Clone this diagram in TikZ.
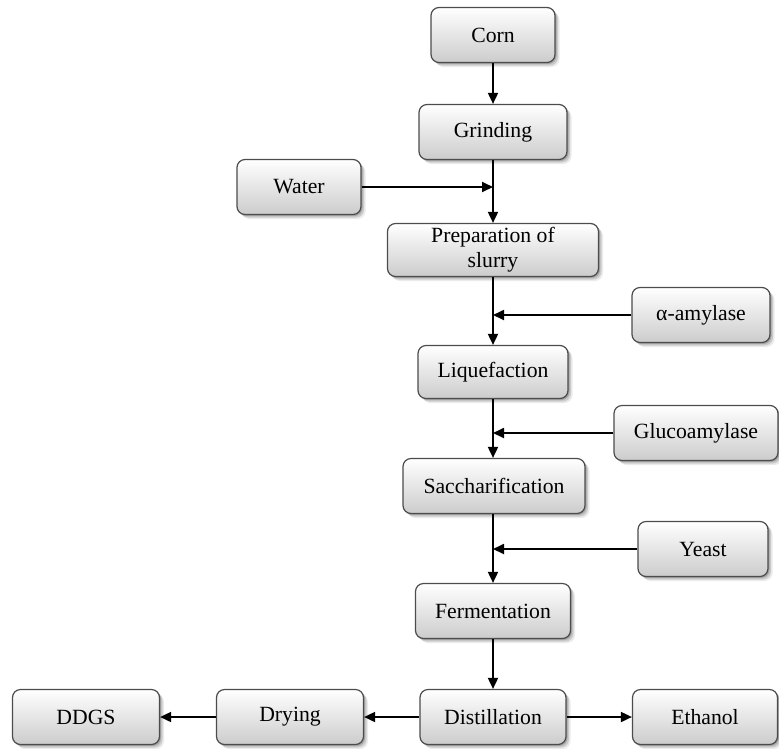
\documentclass[tikz,border=0pt]{standalone}
\usepackage{fontspec}
\setmainfont{Liberation Serif}
\newfontfamily\stagefont{Liberation Serif}
\usetikzlibrary{arrows.meta,shadows}
\begin{document}
\begin{tikzpicture}[x=1pt,y=-1pt,
  softshadow/.style={
    drop shadow={shadow xshift=1.5pt, shadow yshift=-1.5pt, opacity=0.18, fill=black},
    drop shadow={shadow xshift=3pt, shadow yshift=-3pt, opacity=0.14, fill=black},
    drop shadow={shadow xshift=4.5pt, shadow yshift=-4.5pt, opacity=0.08, fill=black}},
  stage/.style={draw=black!70, line width=1.2pt, rounded corners=8pt,
    top color=white, bottom color=black!20, softshadow,
    font=\stagefont\fontsize{21.7}{25}\selectfont, align=center, inner sep=0pt,
    minimum height=55pt},
  flow/.style={line width=1.8pt, -{Triangle[length=11pt,width=10pt]}}]
  \useasboundingbox (0,0) rectangle (779,748);

  % main process column
  \node[stage, minimum width=124pt] (corn)   at (493,35)  {Corn};
  \node[stage, minimum width=148pt] (grind)  at (493,132) {Grinding};
  \node[stage, minimum width=211pt, minimum height=53pt] (slurry) at (493,250) {Preparation of\\slurry};
  \node[stage, minimum width=150pt, minimum height=53pt] (liq)    at (493,372) {Liquefaction};
  \node[stage, minimum width=182pt, minimum height=55pt] (sacch)  at (494,486) {Saccharification};
  \node[stage, minimum width=155pt] (ferm)   at (493,611) {Fermentation};
  \node[stage, minimum width=146pt] (dist)   at (493,717) {Distillation};

  % inputs
  \node[stage, minimum width=124pt] (water)  at (299,187) {Water};
  \node[stage, minimum width=138pt] (amyl)   at (701,315) {α-amylase};
  \node[stage, minimum width=164pt] (gluco)  at (696,433) {Glucoamylase};
  \node[stage, minimum width=130pt] (yeast)  at (703,549) {Yeast};

  % outputs
  \node[stage, minimum width=147pt] (dry)    at (290,717) {Drying};
  \node[stage, minimum width=147pt] (ddgs)   at (86,717)  {DDGS};
  \node[stage, minimum width=145pt] (eth)    at (705,717) {Ethanol};

  % junctions on the main line
  \coordinate (jw) at (493,187);
  \coordinate (ja) at (493,315);
  \coordinate (jg) at (493,433);
  \coordinate (jy) at (493,549);

  \draw[flow] (corn) -- (grind);
  \draw[flow] (grind) -- (slurry);
  \draw[flow] (water) -- (jw);
  \draw[flow] (slurry) -- (liq);
  \draw[flow] (amyl) -- (ja);
  \draw[flow] (liq.south) -- (liq.south |- sacch.north);
  \draw[flow] (gluco) -- (jg);
  \draw[flow] (sacch.south -| ferm.north) -- (ferm.north);
  \draw[flow] (yeast) -- (jy);
  \draw[flow] (ferm) -- (dist);
  \draw[flow] (dist) -- (dry);
  \draw[flow] (dry) -- (ddgs);
  \draw[flow] (dist) -- (eth);
\end{tikzpicture}
\end{document}
